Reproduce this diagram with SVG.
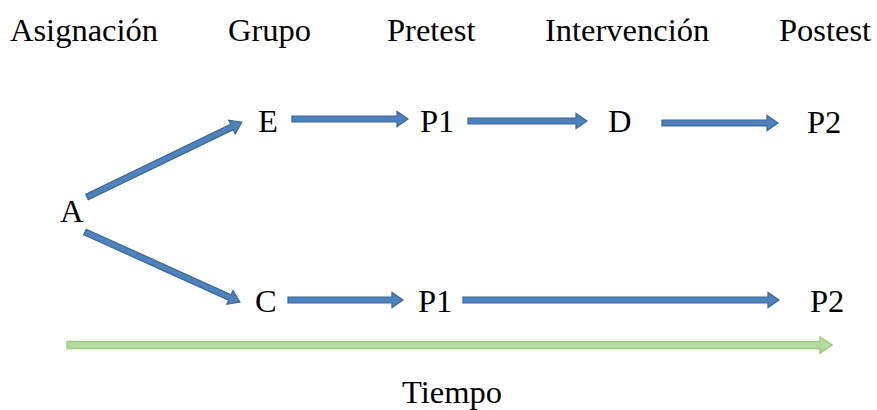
<svg xmlns="http://www.w3.org/2000/svg" width="877" height="410" viewBox="0 0 877 410">
  <style>
    .lbl { font-family: "Liberation Serif", "Times New Roman", serif; font-size: 32.5px; fill: #000; }
    .blue { fill: #4f81bd; stroke: #3a6795; stroke-width: 1.2; stroke-linejoin: miter; }
    .green { fill: #b5dba0; stroke: #9cce82; stroke-width: 1.5; stroke-linejoin: miter; }
  </style>
  <rect width="877" height="410" fill="#ffffff"/>

  <!-- column headings -->
  <g id="headings">
    <text class="lbl" x="10" y="41">Asignación</text>
    <text class="lbl" x="228" y="41">Grupo</text>
    <text class="lbl" x="387" y="41">Pretest</text>
    <text class="lbl" x="545" y="41">Intervención</text>
    <text class="lbl" x="779" y="41">Postest</text>
  </g>

  <!-- nodes -->
  <g id="node-A"><text class="lbl" x="60" y="222">A</text></g>
  <g id="node-E"><text class="lbl" x="258" y="132">E</text></g>
  <g id="node-P1-top"><text class="lbl" x="420" y="132">P1</text></g>
  <g id="node-D"><text class="lbl" x="608" y="132">D</text></g>
  <g id="node-P2-top"><text class="lbl" x="807" y="133">P2</text></g>
  <g id="node-C"><text class="lbl" x="255" y="312">C</text></g>
  <g id="node-P1-bottom"><text class="lbl" x="418" y="312">P1</text></g>
  <g id="node-P2-bottom"><text class="lbl" x="810" y="312">P2</text></g>
  <g id="label-tiempo"><text class="lbl" x="402" y="403">Tiempo</text></g>

  <!-- connectors: block arrows drawn along +x, then placed -->
  <g id="connectors">
    <path class="blue" transform="translate(87,197) rotate(-25.8)" d="M0,-3 H161 V-7.5 L172,0 L161,7.5 V3 H0 Z"/>
    <path class="blue" transform="translate(85,232) rotate(24.3)" d="M0,-3 H159 V-7.5 L170,0 L159,7.5 V3 H0 Z"/>
    <path class="blue" transform="translate(292,119)" d="M0,-3 H105 V-7.5 L116,0 L105,7.5 V3 H0 Z"/>
    <path class="blue" transform="translate(468,121)" d="M0,-3 H108 V-7.5 L119,0 L108,7.5 V3 H0 Z"/>
    <path class="blue" transform="translate(662,123)" d="M0,-3 H105 V-7.5 L116,0 L105,7.5 V3 H0 Z"/>
    <path class="blue" transform="translate(288,300)" d="M0,-3 H104 V-7.5 L115,0 L104,7.5 V3 H0 Z"/>
    <path class="blue" transform="translate(463,300)" d="M0,-3 H305 V-7.5 L316,0 L305,7.5 V3 H0 Z"/>
    <path class="green" transform="translate(67,345)" d="M0,-3.5 H753 V-8 L765,0 L753,8 V3.5 H0 Z"/>
  </g>
</svg>
